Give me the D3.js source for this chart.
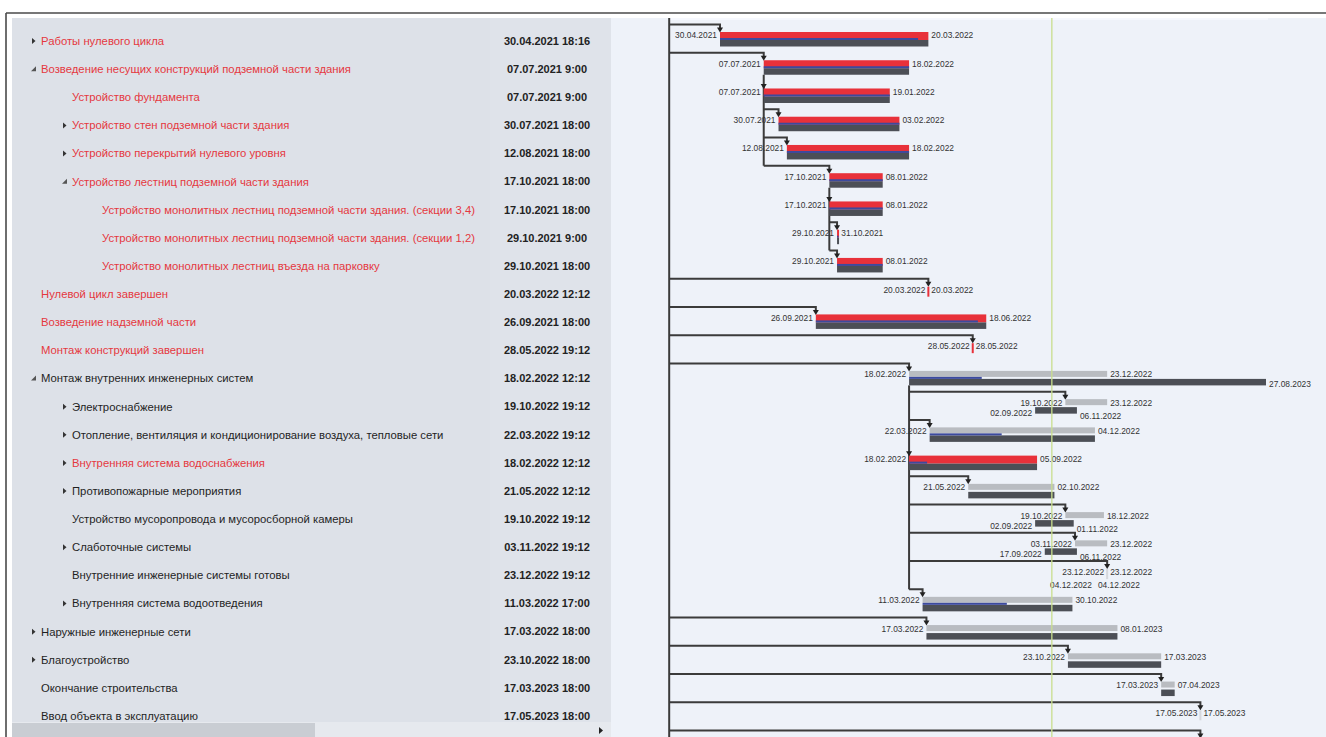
<!DOCTYPE html>
<html>
<head>
<meta charset="utf-8">
<script src="https://cdn.jsdelivr.net/npm/d3@7"></script>
<style>
body { margin: 0; background: #fff; overflow: hidden; }
svg { display: block; }
</style>
</head>
<body>
<div class="chart"></div>
<script>
// GANTT CHART - project schedule
const taskNames = [
	'Работы нулевого цикла',
	'Возведение несущих конструкций подземной части здания',
	'Устройство фундамента',
	'Устройство стен подземной части здания',
	'Устройство перекрытий нулевого уровня',
	'Устройство лестниц подземной части здания',
	'Устройство монолитных лестниц подземной части здания. (секции 3,4)',
	'Устройство монолитных лестниц подземной части здания. (секции 1,2)',
	'Устройство монолитных лестниц въезда на парковку',
	'Нулевой цикл завершен',
	'Возведение надземной части',
	'Монтаж конструкций завершен',
	'Монтаж внутренних инженерных систем',
	'Электроснабжение',
	'Отопление, вентиляция и кондиционирование воздуха, тепловые сети',
	'Внутренняя система водоснабжения',
	'Противопожарные мероприятия',
	'Устройство мусоропровода и мусоросборной камеры',
	'Слаботочные системы',
	'Внутренние инженерные системы готовы',
	'Внутренняя система водоотведения',
	'Наружные инженерные сети',
	'Благоустройство',
	'Окончание строительства',
	'Ввод объекта в эксплуатацию',
	'' // next row, hidden under the scrollbar
];
const taskLevels = [0,0,1,1,1,1,2,2,2,0,0,0,0,1,1,1,1,1,1,1,1,0,0,0,0,0];
// 'c' collapsed, 'e' expanded, '' leaf
const taskToggle = ['c','e','','c','c','e','','','','','','','e','c','c','c','c','','c','','c','c','c','','',''];
const taskStartText = [
	'30.04.2021 18:16','07.07.2021 9:00','07.07.2021 9:00','30.07.2021 18:00','12.08.2021 18:00',
	'17.10.2021 18:00','17.10.2021 18:00','29.10.2021 9:00','29.10.2021 18:00','20.03.2022 12:12',
	'26.09.2021 18:00','28.05.2022 19:12','18.02.2022 12:12','19.10.2022 19:12','22.03.2022 19:12',
	'18.02.2022 12:12','21.05.2022 12:12','19.10.2022 19:12','03.11.2022 19:12','23.12.2022 19:12',
	'11.03.2022 17:00','17.03.2022 18:00','23.10.2022 18:00','17.03.2023 18:00','17.05.2023 18:00',''
];
const critical = [1,1,1,1,1,1,1,1,1,1,1,1,0,0,0,1,0,0,0,0,0,0,0,0,0,0];
const parents = [-1,-1,1,1,1,1,5,5,5,-1,-1,-1,-1,12,12,12,12,12,12,12,12,-1,-1,-1,-1,-1];
const milestone = [0,0,0,0,0,0,0,0,0,1,0,1,0,0,0,0,0,0,0,1,0,0,0,0,1,1];

const planStart = ['30.04.2021','07.07.2021','07.07.2021','30.07.2021','12.08.2021','17.10.2021','17.10.2021','29.10.2021','29.10.2021','20.03.2022','26.09.2021','28.05.2022','18.02.2022','19.10.2022','22.03.2022','18.02.2022','21.05.2022','19.10.2022','03.11.2022','23.12.2022','11.03.2022','17.03.2022','23.10.2022','17.03.2023','17.05.2023','17.05.2023'];
const planEnd   = ['20.03.2022','18.02.2022','19.01.2022','03.02.2022','18.02.2022','08.01.2022','08.01.2022','31.10.2021','08.01.2022','20.03.2022','18.06.2022','28.05.2022','23.12.2022','23.12.2022','04.12.2022','05.09.2022','02.10.2022','18.12.2022','23.12.2022','23.12.2022','30.10.2022','08.01.2023','17.03.2023','07.04.2023','17.05.2023','17.05.2023'];
const baseStart = ['30.04.2021','07.07.2021','07.07.2021','30.07.2021','12.08.2021','17.10.2021','17.10.2021','29.10.2021','29.10.2021','20.03.2022','26.09.2021','28.05.2022','18.02.2022','02.09.2022','22.03.2022','18.02.2022','21.05.2022','02.09.2022','17.09.2022','04.12.2022','11.03.2022','17.03.2022','23.10.2022','17.03.2023','17.05.2023','17.05.2023'];
const baseEnd   = ['20.03.2022','18.02.2022','19.01.2022','03.02.2022','18.02.2022','08.01.2022','08.01.2022','31.10.2021','08.01.2022','20.03.2022','18.06.2022','28.05.2022','27.08.2023','06.11.2022','04.12.2022','05.09.2022','02.10.2022','01.11.2022','06.11.2022','04.12.2022','30.10.2022','08.01.2023','17.03.2023','07.04.2023','17.05.2023','17.05.2023'];
const progressEnd = ['04.03.2022','18.02.2022','19.01.2022','03.02.2022','18.02.2022','08.01.2022','08.01.2022','31.10.2021','08.01.2022',null,'05.06.2022',null,'11.06.2022',null,'12.07.2022','18.03.2022',null,null,null,null,'20.07.2022',null,null,null,null,null];

const projectStart = '10.02.2021';
const todayDate = '28.09.2022';

const W = 1326, H = 737;
const parse = d3.timeParse('%d.%m.%Y');

const svg = d3.select('.chart')
	.append('svg')
		.attr('width', W)
		.attr('height', H);

// frame
svg.append('rect').attr('x', 0).attr('y', 0).attr('width', W).attr('height', H).attr('fill', '#fff');
svg.append('rect').attr('x', 12).attr('y', 18).attr('width', 599).attr('height', H - 18).attr('fill', '#dde1e8');
svg.append('rect').attr('x', 490).attr('y', 18).attr('width', 121).attr('height', H - 18).attr('fill', '#dfe3ea');
svg.append('rect').attr('x', 611).attr('y', 18).attr('width', W - 611).attr('height', H - 18).attr('fill', '#eef2f9');
svg.append('line').attr('x1', 669).attr('x2', 1268).attr('y1', 19).attr('y2', 19).attr('stroke', '#f8faff').attr('stroke-width', 1.5);
svg.append('line').attr('x1', 6).attr('x2', W).attr('y1', 13).attr('y2', 13).attr('stroke', '#4a4a4a').attr('stroke-width', 1.6);
svg.append('line').attr('x1', 6).attr('x2', 6).attr('y1', 13).attr('y2', H).attr('stroke', '#4a4a4a').attr('stroke-width', 1.6);

// LEFT TABLE
const rowY = d3.scaleLinear().domain([0, 24]).range([41, 716]);
const indent = [41, 72, 102];
const table = svg.append('g');

taskNames.forEach((name, i) => {
	const y = rowY(i);
	const tx = indent[taskLevels[i]];
	const color = critical[i] ? '#e5383f' : '#1f1f1f';
	if (taskToggle[i] === 'c') {
		table.append('path')
			.attr('d', `M${tx - 9},${y - 3} L${tx - 5.5},${y} L${tx - 9},${y + 3} Z`)
			.attr('fill', '#333');
	} else if (taskToggle[i] === 'e') {
		table.append('path')
			.attr('d', `M${tx - 5},${y - 3} L${tx - 5},${y + 2} L${tx - 10},${y + 2} Z`)
			.attr('fill', '#555');
	}
	table.append('text')
		.attr('x', tx)
		.attr('y', y)
		.attr('dy', '0.35em')
		.attr('font-family', 'Liberation Sans, Arial, sans-serif')
		.attr('font-size', 11.3)
		.attr('fill', color)
		.text(name);
	table.append('text')
		.attr('x', 547)
		.attr('y', y)
		.attr('dy', '0.35em')
		.attr('text-anchor', 'middle')
		.attr('font-family', 'Liberation Sans, Arial, sans-serif')
		.attr('font-size', 11)
		.attr('font-weight', 'bold')
		.attr('fill', '#222')
		.text(taskStartText[i]);
});

// scrollbar under the table
svg.append('rect').attr('x', 12).attr('y', 722).attr('width', 599).attr('height', 15).attr('fill', '#e6e9ee');
svg.append('rect').attr('x', 12).attr('y', 723).attr('width', 303).attr('height', 14).attr('fill', '#c9cdd3');
svg.append('path').attr('d', 'M599,727 L603,730.5 L599,734 Z').attr('fill', '#222');

// GANTT
const xScale = d3.scaleTime()
	.domain([parse('30.04.2021'), parse('27.08.2023')])
	.range([720, 1266]);
const gy = d3.scaleLinear().domain([0, 24]).range([39.5, 717.3]);

const gantt = svg.append('g');
gantt.append('clipPath').attr('id', 'gclip')
	.append('rect').attr('x', 611).attr('y', 18).attr('width', W - 611).attr('height', H - 18);
const g = gantt.append('g').attr('clip-path', 'url(#gclip)');

const lineColor = '#3b3b3b';
const rootX = xScale(parse(projectStart));
const startX = i => xScale(parse(planStart[i]));

// parent vertical lines
g.append('line')
	.attr('x1', rootX).attr('x2', rootX).attr('y1', 18).attr('y2', H)
	.attr('stroke', lineColor).attr('stroke-width', 2);

d3.range(taskNames.length).forEach(p => {
	const kids = d3.range(taskNames.length).filter(i => parents[i] === p);
	if (!kids.length) return;
	const px = startX(p);
	const last = kids[kids.length - 1];
	const yEnd = startX(last) > px + 1 ? gy(last) - 15 : gy(last) - 12;
	g.append('line')
		.attr('x1', px).attr('x2', px)
		.attr('y1', gy(p) + 7).attr('y2', yEnd)
		.attr('stroke', lineColor).attr('stroke-width', 2);
});

// connectors with arrows
taskNames.forEach((n, i) => {
	const px = parents[i] < 0 ? rootX : startX(parents[i]);
	const sx = startX(i);
	const c = gy(i);
	const cy = c - 15;
	if (sx > px + 1) {
		g.append('path')
			.attr('d', `M${px},${cy} H${sx} V${c - 11}`)
			.attr('fill', 'none').attr('stroke', lineColor).attr('stroke-width', 2);
	}
	g.append('path')
		.attr('d', `M${sx - 3},${c - 12} L${sx + 3},${c - 12} L${sx},${c - 7} Z`)
		.attr('fill', '#222');
});

// bars
const label = (x, y, anchor, txt) => g.append('text')
	.attr('x', x).attr('y', y).attr('dy', '0.35em')
	.attr('text-anchor', anchor)
	.attr('font-family', 'Liberation Sans, Arial, sans-serif')
	.attr('font-size', 8.4)
	.attr('fill', '#333')
	.text(txt);

taskNames.forEach((n, i) => {
	const c = gy(i);
	if (c - 8 > H) return; // row below the visible area: only its connector shows
	const x1 = xScale(parse(planStart[i]));
	const x2 = xScale(parse(planEnd[i]));
	const b1 = xScale(parse(baseStart[i]));
	const b2 = xScale(parse(baseEnd[i]));
	const topColor = critical[i] ? '#e8313a' : '#b9bcc1';

	if (milestone[i]) {
		g.append('rect')
			.attr('x', x1 - 1).attr('y', c - 7).attr('width', 2).attr('height', 10)
			.attr('fill', critical[i] ? '#e8313a' : '#d5d8dd');
		label(x1 - 3, c - 4, 'end', planStart[i]);
		label(x1 + 3, c - 4, 'start', planEnd[i]);
		if (b1 !== x1) {
			label(b1 - 3, c + 9, 'end', baseStart[i]);
			label(b1 + 3, c + 9, 'start', baseEnd[i]);
		}
		return;
	}

	g.append('rect')
		.attr('x', x1).attr('y', c - 7.5)
		.attr('width', Math.max(2, x2 - x1)).attr('height', critical[i] ? 8 : 6)
		.attr('fill', topColor);
	g.append('rect')
		.attr('x', b1).attr('y', c + 0.5)
		.attr('width', Math.max(2, b2 - b1)).attr('height', 6.5)
		.attr('fill', '#4c4f56');
	if (progressEnd[i]) {
		const pe = xScale(parse(progressEnd[i]));
		g.append('rect')
			.attr('x', x1).attr('y', c - 1.5)
			.attr('width', Math.max(1.5, pe - x1)).attr('height', 2)
			.attr('fill', '#3c4a9e');
	}

	label(x1 - 3, c - 4, 'end', planStart[i]);
	label(x2 + 3, c - 4, 'start', planEnd[i]);
	if (b1 !== x1) label(b1 - 3, c + 6, 'end', baseStart[i]);
	if (b2 !== x2) label(b2 + 3, b2 < x2 ? c + 9 : c + 6, 'start', baseEnd[i]);
});

// current date line
const tx = xScale(parse(todayDate));
g.append('line')
	.attr('x1', tx).attr('x2', tx).attr('y1', 18).attr('y2', H)
	.attr('stroke', '#c9de8e').attr('stroke-width', 1.3);
</script>
</body>
</html>
